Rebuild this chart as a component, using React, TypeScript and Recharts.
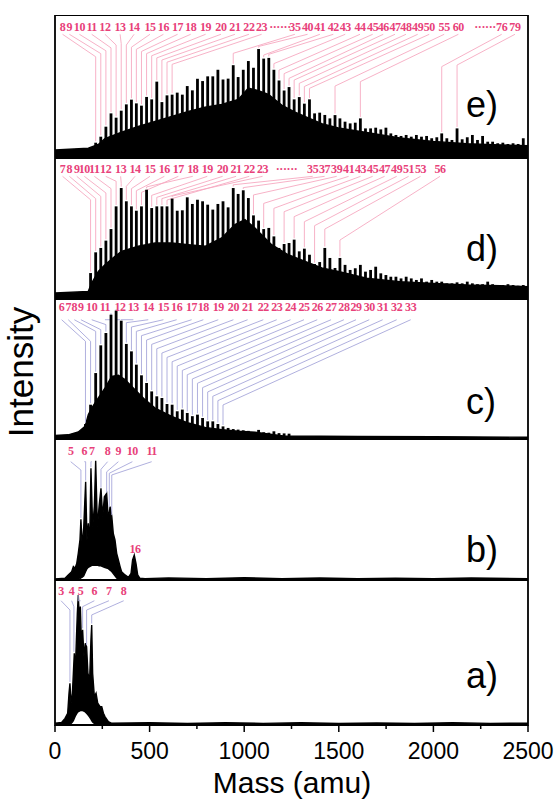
import React from "react";
import {
  ComposedChart,
  Area,
  Scatter,
  XAxis,
  YAxis,
  ReferenceLine,
  ReferenceArea,
} from "recharts";

const clusterMass = [
  81, 108, 134, 161, 188, 215, 242, 269, 296, 323, 350, 377, 404, 430, 457, 484, 511, 538, 565, 592,
  619, 646, 673, 699, 726, 753, 780, 807, 834, 861, 888, 915, 942, 968, 995, 1022, 1049, 1076, 1103, 1130,
  1157, 1184, 1211, 1237, 1264, 1291, 1318, 1345, 1372, 1399, 1426, 1453, 1480, 1506, 1533, 1560, 1587, 1614, 1641, 1668,
  1695, 1722, 1749, 1775, 1802, 1829, 1856, 1883, 1910, 1937, 1964, 1991, 2018, 2044, 2071, 2098, 2125, 2152, 2179, 2206,
  2233, 2260, 2287, 2313, 2340, 2367, 2394, 2421, 2448, 2475,
];
const clusterFirstN = 3;

const massTicks = [0, 250, 500, 750, 1000, 1250, 1500, 1750, 2000, 2250, 2500];

// ---------- panel e ----------
const eFirstN = 8;
const eSpike = [
  10.7, 14.9, 21.9, 31.2, 28.2, 33.1, 37.5, 40.8, 38.2, 36.6, 42.7, 41.0, 53.4, 39.1, 43.8,
  44.3, 45.7, 44.3, 50.3, 47.3, 55.4, 53.8, 57.1, 57.1, 61.7, 54.9, 55.5, 64.9, 56.6, 61.7,
  67.8, 63.1, 76.2, 69.5, 70.0, 61.7, 54.2, 47.2, 49.6, 41.0, 42.6, 38.0, 41.0, 31.2, 31.7,
  30.1, 27.7, 30.0, 27.7, 25.4, 24.2, 24.7, 27.7, 20.7, 20.7, 21.2, 20.0, 21.2, 17.2, 16.1,
  15.4, 16.1, 14.9, 16.1, 14.9, 15.4, 13.8, 14.5, 17.2, 13.8, 12.6, 20.7, 13.1, 14.5, 16.1,
  12.6, 15.4, 11.4, 11.4, 10.3, 10.7, 9.8, 10.3, 9.8, 13.8,
];
const eEnvMass = [0, 176, 229, 264, 352, 440, 529, 617, 705, 793, 881, 969, 1022, 1075, 1128, 1198, 1269, 1339, 1410, 1498, 1647, 1823, 2000, 2176, 2352, 2500];
const eEnvInt = [5.6, 6.8, 9.5, 13.5, 18.0, 22.0, 25.5, 29.0, 32.5, 35.5, 37.5, 41.0, 49.0, 47.0, 44.5, 37.0, 32.0, 28.0, 24.0, 21.0, 17.8, 14.0, 11.6, 10.0, 9.2, 8.6];
const eLabelText = ["8", "9", "10", "11", "12", "13", "14", "15", "16", "17", "18", "19", "20", "21", "22", "23", "\u00b7\u00b7\u00b7\u00b7\u00b7\u00b7", "35", "40", "41", "42", "43", "44", "45", "46", "47", "48", "49", "50", "55", "60", "\u00b7\u00b7\u00b7\u00b7\u00b7\u00b7", "76", "79"];
const eLabelMass = [40, 76, 129, 194, 264, 344, 418, 502, 573, 648, 717, 796, 877, 951, 1025, 1092, 1189, 1268, 1335, 1400, 1471, 1534, 1612, 1679, 1735, 1797, 1855, 1917, 1978, 2057, 2132, 2273, 2361, 2431];
const eTarget = [215, 242, 269, 296, 323, 350, 377, 404, 430, 457, 484, 511, 538, 565, 592, 619, null, 942, 1076, 1103, 1130, 1157, 1184, 1211, 1237, 1264, 1291, 1318, 1345, 1480, 1614, null, 2044, 2125];
const eBend = [70.8, 73, 75, 77, 79, 80, 79, 77.5, 76, 74.5, 73, 71.5, 70, 68.5, 67, 65.5, null, 73.2, 78, 72, 72.5, 66, 61.5, 59, 55.7, 54.5, 52.2, 50, 48.7, 50.3, 53.4, null, 63.9, 65];

// ---------- panel d ----------
const dFirstN = 7;
const dSpike = [
  18.4, 33.1, 36.2, 41.4, 49.6, 65.7, 78.7, 69.3, 65.7, 62.6, 65.7, 77.5, 64.5, 65.7, 65.7,
  65.7, 71.2, 62.6, 62.9, 72.1, 67.4, 70.4, 69.3, 66.9, 63.4, 67.4, 69.3, 65.0, 78.7, 74.5,
  77.1, 71.6, 59.3, 55.6, 49.6, 50.4, 44.4, 36.2, 39.0, 39.7, 42.1, 33.8, 35.7, 31.4, 24.8,
  26.2, 36.2, 29.1, 22.0, 29.1, 24.2, 20.6, 21.8, 24.2, 19.4, 20.6, 22.9, 18.2, 17.0, 15.8,
  15.8, 14.6, 15.8, 14.6, 13.5, 14.6, 12.3, 13.5, 12.3, 12.3, 11.1, 11.1, 11.8, 11.1, 12.3,
  11.1, 10.5, 10.5, 12.3, 10.5, 9.9, 9.9, 10.5, 9.9, 9.4, 9.9,
];
const dEnvMass = [0, 176, 194, 229, 264, 317, 352, 440, 529, 617, 705, 793, 881, 951, 1004, 1057, 1145, 1233, 1322, 1410, 1498, 1647, 1823, 2000, 2176, 2352, 2500];
const dEnvInt = [4.3, 5.4, 11.3, 19.6, 24.3, 30.3, 33.8, 37.4, 39.7, 39.7, 38.5, 37.4, 43.3, 52.7, 56.3, 50.4, 38.5, 31.4, 26.7, 22.0, 19.6, 14.7, 12.3, 11.1, 9.9, 9.4, 8.7];
const dLabelText = ["7", "8", "9", "10", "11", "12", "13", "14", "15", "16", "17", "18", "19", "20", "21", "22", "23", "\u00b7\u00b7\u00b7\u00b7\u00b7\u00b7", "35", "37", "39", "41", "43", "45", "47", "49", "51", "53", "56"];
const dLabelMass = [40, 76, 115, 155, 208, 268, 347, 423, 502, 578, 652, 728, 805, 886, 957, 1027, 1097, 1224, 1362, 1425, 1489, 1552, 1615, 1679, 1742, 1806, 1869, 1932, 2035];
const dTarget = [188, 215, 242, 269, 296, 323, 350, 377, 404, 430, 457, 484, 511, 538, 565, 592, 619, null, 942, 995, 1049, 1103, 1157, 1211, 1264, 1318, 1372, 1426, 1506];
const dBend = [70.4, 71.2, 72.8, 75.2, 78.3, 83.5, 82, 79.9, 78.3, 76.8, 75.6, 79.5, 73.5, 72.1, 71.2, 70.2, 73, null, 81, 79, 73.8, 67.8, 64.3, 61.9, 58.4, 54.8, 52, 49.6, 41.8];

// ---------- panel c ----------
const cFirstN = 6;
const cSpike = [
  10.7, 24.5, 47.1, 66.9, 75.7, 88.8, 91.7, 84.5, 67.9, 62.6, 53.1, 45.5, 40.0, 34.0, 30.5,
  29.3, 25.0, 24.5, 19.8, 21.0, 18.6, 16.3, 17.4, 15.0, 12.6, 12.6, 10.7, 9.0, 7.9, 7.1,
  6.7, 6.2, 5.8, 5.0, 6.5, 4.8, 4.5, 5.5, 4.2, 4.0, 3.8,
];
const cEnvMass = [0, 70, 123, 159, 176, 194, 229, 264, 300, 335, 370, 423, 476, 529, 617, 705, 793, 881, 969, 1057, 1207, 1600, 2000, 2500];
const cEnvInt = [2.6, 3.0, 5.0, 9.0, 17.4, 22.1, 29.3, 36.4, 44.8, 45.5, 42.4, 35.2, 28.1, 22.1, 16.2, 11.4, 8.3, 6.7, 5.5, 4.8, 2.1, 1.8, 1.7, 1.2];
const cLabelText = ["6", "7", "8", "9", "10", "11", "12", "13", "14", "15", "16", "17", "18", "19", "20", "21", "22", "23", "24", "25", "26", "27", "28", "29", "30", "31", "32", "33"];
const cLabelMass = [35, 70, 102, 137, 194, 264, 344, 414, 493, 573, 643, 722, 784, 863, 943, 1018, 1101, 1172, 1245, 1316, 1386, 1459, 1527, 1591, 1661, 1732, 1806, 1880];
const cTarget = [161, 188, 215, 242, 269, 296, 323, 350, 377, 404, 430, 457, 484, 511, 538, 565, 592, 619, 646, 673, 699, 726, 753, 780, 807, 834, 861, 888];
const cBend = [69.8, 69.8, 76.9, 78.1, 81.7, 85.2, 85.2, 85.2, 83.1, 80.0, 76.9, 73.8, 70.7, 67.6, 64.5, 61.4, 58.3, 55.2, 52.1, 49.0, 45.9, 42.9, 39.8, 36.7, 33.6, 30.5, 27.4, 24.3];

// ---------- panel b ----------
const bMass = [0, 53, 70, 88, 97, 106, 115, 123, 132, 137, 144, 152, 162, 169, 176, 183, 190, 199, 208, 215, 224, 233, 243, 252, 261, 273, 282, 291, 300, 308, 317, 326, 335, 344, 352, 370, 388, 402, 410, 419, 428, 437, 449, 476, 600, 800, 1000, 1200, 1400, 1600, 1800, 2000, 2200, 2500];
const bHigh = [0.8, 1.2, 3.6, 5.9, 9.5, 8.3, 11.8, 18.9, 28.4, 43.0, 23.7, 37.8, 69.7, 28.4, 40.2, 23.7, 79.2, 37.8, 52.0, 84.6, 37.8, 52.0, 65.0, 44.9, 59.1, 61.5, 42.6, 52.0, 45.4, 33.1, 28.4, 18.9, 14.2, 9.5, 5.9, 3.6, 1.9, 4.7, 14.2, 17.7, 11.8, 3.6, 1.2, 1.0, 1.5, 1.0, 1.6, 1.0, 1.4, 1.0, 1.3, 1.0, 1.4, 1.0];
const bLow = [0, 0, 0, 0, 0, 0, 0, 0.5, 1, 1.5, 2, 3, 6, 8, 9, 9.5, 10, 10.5, 10.5, 10.5, 10.5, 10, 10, 9.5, 9, 8.5, 8, 7, 6, 4.5, 3, 1.5, 0.5, 0, 0, 0, 0, 0, 0, 0, 0, 0, 0, 0, 0, 0, 0, 0, 0, 0, 0, 0, 0, 0];
const bLabelText = ["5", "6", "7", "8", "9", "10", "11", "16"];
const bLabelMass = [83, 155, 194, 278, 335, 409, 511, 423];
const bLabelY = [88.7, 88.7, 88.7, 88.7, 88.7, 88.7, 88.7, 19.4];
const bTarget = [137, 162, 190, 243, 273, 287, 300, null];
const bBend = [78, 83.9, 83.9, 78.5, 76.7, 75.7, 74.5, null];
const bEnd = [44, 70.5, 80, 65.5, 62, 52, 46, null];

// ---------- panel a ----------
const aMass = [0, 35, 53, 67, 74, 79, 85, 92, 97, 102, 107, 113, 118, 123, 129, 134, 139, 146, 153, 160, 167, 174, 183, 190, 194, 199, 208, 217, 226, 238, 247, 256, 264, 282, 300, 500, 700, 900, 1100, 1300, 1500, 1700, 1900, 2100, 2300, 2500];
const aHigh = [1.2, 1.7, 4.6, 8.1, 21.9, 28.7, 15.0, 21.9, 35.7, 49.5, 35.7, 58.7, 77.1, 89.7, 72.5, 81.7, 58.7, 65.6, 47.2, 56.4, 54.1, 35.7, 31.1, 58.7, 69.0, 35.7, 19.6, 21.9, 15.0, 12.7, 12.7, 8.1, 5.8, 2.3, 1.2, 1.6, 1.0, 1.5, 1.1, 1.5, 1.0, 1.4, 1.0, 1.5, 1.1, 1.3];
const aLow = [0, 0, 0, 0, 0, 0.5, 1, 2, 3, 4.5, 6, 7.5, 8.6, 9.2, 9.6, 9.9, 9.9, 9.9, 9.5, 9, 8, 7, 5.5, 4, 3, 2, 1, 0, 0, 0, 0, 0, 0, 0, 0, 0, 0, 0, 0, 0, 0, 0, 0, 0, 0, 0];
const aLabelText = ["3", "4", "5", "6", "7", "8"];
const aLabelMass = [32, 88, 135, 208, 285, 363];
const aTarget = [79, 100, 123, 146, 167, 194];
const aBend = [79.3, 81.6, 85.7, 81.6, 79.3, 75.9];
const aEnd = [29.7, 50.5, 89.7, 66.6, 55, 70];

// ---------- styling ----------
const PINK_TEXT = "#e8417a";
const PINK_LINE = "#f6a9c1";
const BLUE_LINE = "#a7a7da";
const SANS = "'Liberation Sans', Arial, Helvetica, sans-serif";
const SERIF = "'Liberation Serif', 'Times New Roman', serif";

type Link = { x0: number; y0: number; x1: number; y1: number; y2: number };

function spikeRows(firstN: number, values: number[]) {
  return values.map((v, i) => ({ m: clusterMass[firstN - clusterFirstN + i], spike: v }));
}

function LabelShape(props: any) {
  const { cx, cy, payload } = props;
  if (cx == null || cy == null) return null;
  return (
    <text
      x={cx}
      y={cy}
      textAnchor="middle"
      fontFamily={SERIF}
      fontWeight="bold"
      fontSize={12}
      letterSpacing={-0.4}
      fill={PINK_TEXT}
    >
      {payload.t}
    </text>
  );
}

function makeSpikeShape(bottom: number) {
  return function SpikeShape(props: any) {
    const { cx, cy } = props;
    if (cx == null || cy == null) return null;
    return <rect x={cx - 1.4} y={cy} width={2.8} height={Math.max(0, bottom - cy)} fill="#000" />;
  };
}

function AxisTick(props: any) {
  const { x, y, payload } = props;
  const major = payload.value % 500 === 0;
  return (
    <g>
      <line x1={x} x2={x} y1={y} y2={y + (major ? 7 : 4)} stroke="#000" strokeWidth={1.5} />
      {major && (
        <text x={x} y={y + 34} textAnchor="middle" fontFamily={SANS} fontSize={23} fill="#000">
          {payload.value}
        </text>
      )}
    </g>
  );
}

type PanelProps = {
  top: number;
  height: number;
  rows: any[];
  spikes: any[];
  kind: "spikes" | "range";
  labels: { m: number; ly: number; t: string }[];
  links: Link[];
  lineColor: string;
  axis?: boolean;
};

function Panel({ top, height, rows, spikes, kind, labels, links, lineColor, axis }: PanelProps) {
  const axisH = axis ? 76 : 0;
  const SpikeShape = makeSpikeShape(height);
  return (
    <div style={{ position: "absolute", left: 0, top, width: 557, height: height + axisH }}>
      <ComposedChart
        width={557}
        height={height + axisH}
        data={rows}
        margin={{ top: 0, right: 29, bottom: 0, left: 55 }}
      >
        <XAxis
          dataKey="m"
          type="number"
          domain={[0, 2500]}
          ticks={massTicks}
          interval={0}
          allowDataOverflow
          hide={!axis}
          height={axisH || 0}
          axisLine={false}
          tickLine={false}
          tickSize={0}
          tickMargin={0}
          tick={<AxisTick />}
        />
        <YAxis type="number" domain={[0, 100]} hide allowDataOverflow />
        <Area
          dataKey={kind === "spikes" ? "env" : "range"}
          type="linear"
          stroke="#000"
          strokeWidth={1.4}
          fill="#000"
          fillOpacity={1}
          connectNulls
          dot={false}
          activeDot={false}
          isAnimationActive={false}
        />
        {spikes.length > 0 && (
          <Scatter data={spikes} dataKey="spike" shape={<SpikeShape />} isAnimationActive={false} />
        )}
        {links.map((l, i) => (
          <ReferenceLine
            key={"a" + i}
            segment={[
              { x: l.x0, y: l.y0 },
              { x: l.x1, y: l.y1 },
            ]}
            stroke={lineColor}
            strokeWidth={0.9}
            ifOverflow="visible"
          />
        ))}
        {links.map((l, i) => (
          <ReferenceLine
            key={"b" + i}
            segment={[
              { x: l.x1, y: l.y1 },
              { x: l.x1, y: l.y2 },
            ]}
            stroke={lineColor}
            strokeWidth={0.9}
            ifOverflow="visible"
          />
        ))}
        <Scatter data={labels} dataKey="ly" shape={<LabelShape />} isAnimationActive={false} />
        <ReferenceArea
          x1={0}
          x2={2500}
          y1={0}
          y2={100}
          fill="none"
          fillOpacity={0}
          stroke="#000"
          strokeWidth={1.8}
          ifOverflow="visible"
        />
      </ComposedChart>
    </div>
  );
}

function buildSpikePanel(
  firstN: number,
  spikeVals: number[],
  envMass: number[],
  envInt: number[],
  text: string[],
  lmass: number[],
  labelY: number,
  lineY: number,
  target: (number | null)[],
  bend: (number | null)[]
) {
  const spikes = spikeRows(firstN, spikeVals);
  const rows = envMass.map((m, i) => ({ m, env: envInt[i] }));
  const labels = text.map((t, i) => ({ m: lmass[i], ly: labelY, t }));
  const links: Link[] = [];
  target.forEach((tm, i) => {
    if (tm == null) return;
    const s = spikes.find((r) => r.m === tm);
    const top = s ? s.spike + 1 : 5;
    links.push({ x0: lmass[i], y0: lineY, x1: tm, y1: bend[i] as number, y2: top });
  });
  return { rows, spikes, labels, links };
}

function buildRangePanel(
  mass: number[],
  high: number[],
  low: number[],
  text: string[],
  lmass: number[],
  labelY: number[],
  lineY: number,
  target: (number | null)[],
  bend: (number | null)[],
  end: (number | null)[]
) {
  const rows = mass.map((m, i) => ({ m, range: [low[i], high[i]] }));
  const labels = text.map((t, i) => ({ m: lmass[i], ly: labelY[i], t }));
  const links: Link[] = [];
  target.forEach((tm, i) => {
    if (tm == null) return;
    links.push({ x0: lmass[i], y0: lineY, x1: tm, y1: bend[i] as number, y2: end[i] as number });
  });
  return { rows, spikes: [] as any[], labels, links };
}

export default function App() {
  const e = buildSpikePanel(eFirstN, eSpike, eEnvMass, eEnvInt, eLabelText, eLabelMass, 88.8, 86.5, eTarget, eBend);
  const d = buildSpikePanel(dFirstN, dSpike, dEnvMass, dEnvInt, dLabelText, dLabelMass, 89.4, 87, dTarget, dBend);
  const c = buildSpikePanel(cFirstN, cSpike, cEnvMass, cEnvInt, cLabelText, cLabelMass, 91.4, 85.2, cTarget, cBend);
  const b = buildRangePanel(bMass, bHigh, bLow, bLabelText, bLabelMass, bLabelY, 83.9, bTarget, bBend, bEnd);
  const aLabY = aLabelText.map(() => 89.7);
  const a = buildRangePanel(aMass, aHigh, aLow, aLabelText, aLabelMass, aLabY, 85.7, aTarget, aBend, aEnd);

  return (
    <div style={{ position: "absolute", left: 0, top: 0, width: 557, height: 801, background: "#fff" }}>
      <Panel top={15} height={143} kind="spikes" {...e} lineColor={PINK_LINE} />
      <Panel top={158} height={141} kind="spikes" {...d} lineColor={PINK_LINE} />
      <Panel top={299} height={140} kind="spikes" {...c} lineColor={BLUE_LINE} />
      <Panel top={439} height={141} kind="range" {...b} lineColor={BLUE_LINE} />
      <Panel top={580} height={145} kind="range" {...a} lineColor={BLUE_LINE} axis />
      <svg
        width={557}
        height={801}
        style={{ position: "absolute", left: 0, top: 0, pointerEvents: "none" }}
      >
        <text x={466} y={117} fontFamily={SANS} fontSize={36} fill="#000">e)</text>
        <text x={466} y={261} fontFamily={SANS} fontSize={36} fill="#000">d)</text>
        <text x={466} y={414} fontFamily={SANS} fontSize={36} fill="#000">c)</text>
        <text x={466} y={562} fontFamily={SANS} fontSize={36} fill="#000">b)</text>
        <text x={466} y={688} fontFamily={SANS} fontSize={36} fill="#000">a)</text>
        <text
          x={33}
          y={372}
          transform="rotate(-90 33 372)"
          textAnchor="middle"
          fontFamily={SANS}
          fontSize={35}
          fill="#000"
        >
          Intensity
        </text>
        <text x={292} y={793} textAnchor="middle" fontFamily={SANS} fontSize={30} fill="#000">
          Mass (amu)
        </text>
      </svg>
    </div>
  );
}
